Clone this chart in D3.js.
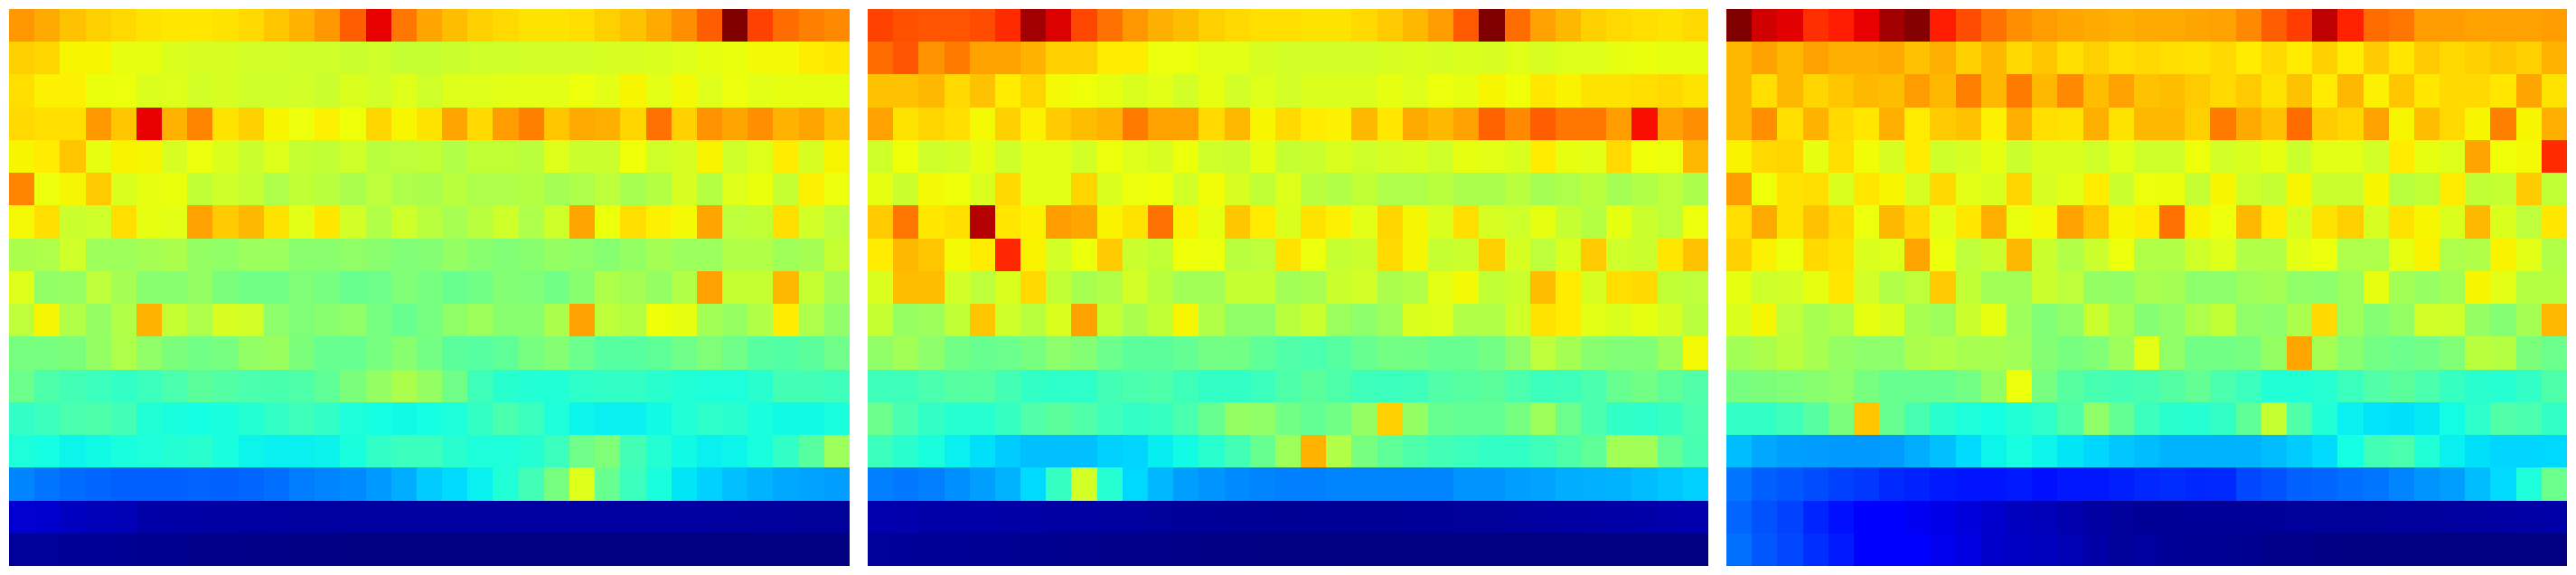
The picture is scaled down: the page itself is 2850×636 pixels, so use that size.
<!DOCTYPE html>
<html>
<head>
<meta charset="utf-8">
<script src="https://cdn.jsdelivr.net/npm/d3@7"></script>
<style>html,body{margin:0;padding:0;background:#fff}svg{display:block}</style>
</head>
<body>
<svg id="chart" width="2850" height="636"></svg>
<script>
const panelA = [
[75,73,70.5,69,68,67,66.5,66.5,67,68,70,72,75,81,91,78.5,73.5,71,69,68,67,67,67.5,69,70.5,73,76,81,100,84,79.5,77.5,76.5],
[69,68.5,65,65,63,63,61.5,61,61,60.5,60.5,60,60,59.5,60,59,59,59.5,60,60,60.5,60.5,60.5,61,61,61.5,62,63,63.5,64.5,64.5,66,66.5],
[67.5,65.5,65.5,63.5,63.7,61.5,62,60.5,61,60,60,60.5,59.5,61.5,60.5,62,60,62,62,62.5,62.5,62.5,63.8,62.5,65,62.5,64.5,62,63.8,62.5,63,63,63],
[68,67.5,67.5,75,70,91,72,77,67,69,65,63.8,65.5,64,68.5,65,67,73.5,68,74.5,77.5,70,73,72.5,68.5,79,69,75.5,73.5,76,72,73.5,70.5],
[65,66,70,63,65.3,64.8,61,63.7,61.5,59.5,62,59,58.5,60,57.5,58,58.5,56.5,58.5,58.5,57.5,62,59.5,59.5,64,60,61,65.3,60,62,66,61,65],
[77,63.7,64.8,69.5,61.5,63,63.5,58.5,60,59,56,58.5,57.5,55.8,58,56,55.8,57.5,56,56,57,55,56,58,55.3,57,61,57,62,63.5,59,65.5,63.7],
[64.7,67.5,59.5,60,67.5,63,62.5,74,69.5,71.5,67,62.5,66.5,60.5,56.5,60,57.5,55.2,57.5,60,56,60,73.5,63.7,67.5,65.5,64.5,73.5,58,58.5,67.5,60.5,58],
[55.8,56,60,54,54,55,55.8,53,52.5,53.8,53.8,51.8,51.8,52.5,51.8,50.7,51,53,51.5,50.7,51.5,53,52.5,51.3,53,55,53.8,53.8,56.5,56.5,54.2,55,59],
[62,52.7,53.2,58,55,51.5,51.5,53,50,48.7,48.7,50.4,49.5,47.7,48.2,50.5,49.5,47.7,48.7,51,50.4,48.7,51.5,56,55,53,56.5,74,59,59,71.5,59,55],
[58,64.8,56.5,53,56.5,72,59,56,61,60.5,52,50.4,51.5,52.5,49.5,47.5,49.5,52.5,54,51.5,51.5,55.8,74,58,57,64,63,54.7,53.2,56.5,66,56,52.5],
[49.5,49.5,50,53,56,52.5,50,48.7,49.5,52.7,53.5,50,47.5,47.5,49.5,51.5,49,46,45.5,46.5,49.5,51,48,45.5,45.5,46.5,48.5,50.4,48.5,45.5,45,46,48.5],
[48,44.5,43,42,41,42,44,46,45,44,43.8,44.5,46.5,50,53,55.8,53,48.5,42.5,39.8,39.2,39,40.5,41,41,40,39,38.5,38.5,40,43,43,42.5],
[41,42,44,44.5,43,39,38,37.5,38,39.3,41,42.5,41,38.5,37.5,37,37.5,38.5,41.3,44,42,38.5,36.5,36,36,37,39,40.5,40,38,37,37,38],
[38.5,37.5,36.5,37,38,38.5,39.3,40,38,36.5,36,36,36.3,38,41,42,42,40,38.5,38.5,39.3,42,48.5,50.4,43,39.3,37,36,36.5,38,41,45.5,54],
[25.5,24,23,22.5,21.8,21.8,21.8,22.2,22,22.5,23.3,24.7,25.5,26,27.5,29.5,32.5,34,36,39,43,49.5,62,47.5,42,38,35,33,31.3,30,29,28.5,28],
[7,6.8,5.6,5,4.5,3.6,3.4,3.2,3.1,3,3,2.9,2.9,2.8,2.8,2.8,2.8,2.8,2.8,2.8,2.8,2.8,2.8,2.8,2.8,2.8,2.8,2.6,2.6,2.5,2.5,2.4,2.4],
[2.3,2.3,2,2,1.7,1.4,1.4,1,1,.7,.6,.5,.4,.3,.3,.2,.2,.2,.2,.2,.1,.1,0,0,0,0,0,0,0,0,0,0,0]
];
const panelB = [
[84,82.5,82,82,83,86.5,97,92,83.5,79,75,72.5,71,69,68,67.5,67.5,67,67,68,69.5,71.5,74.5,81.5,100,79.5,74,71.5,69,68,67.5,67,68],
[79.5,82,75.5,78,73.8,73.8,72,69,69,66,66,63.7,63.7,62.5,62.5,61,60.5,60.5,60.5,60.5,61,61.5,61,61.5,61,62.3,61,62,62,63,63.5,63,63],
[70.5,70.5,71.5,68,70.5,66,68.5,64.5,64,63,61.5,62.5,60.5,63,60.5,62,60.5,61.5,61.5,61.5,63,62,63.8,63,65,64,66.5,65.3,67,67,67.5,68,67],
[74,67,68.5,67.5,64.6,69,65.5,69.5,71,72,78,73.8,73.8,68,71.5,65,68,66,65.5,71.5,66.5,73,71.5,74,80.5,76.5,81,78.5,78.5,74.5,89.5,74,76],
[60,64,60,60.5,63,60,62.5,62.5,60.5,63.7,62,61,63.7,60,59.5,63,59,59.5,61.5,60,61,61.5,60,63,62.5,61.5,66,63,62.5,68,64,63.7,71.5],
[63,59.5,64.5,64,61.5,68,62.5,62.5,68.5,61.5,63.7,64,60.5,64.2,61,58.5,62,57.5,56.5,58.5,56,56,57.5,55.8,55.8,57.5,55,56,57.5,55,56.5,58,55.8],
[69.5,78.5,66.5,67.5,95.5,66.5,65.5,74.5,73.5,65.3,67,79,65.5,63,70,66,61.5,67,65.5,62.5,68.5,64.8,61.5,67.5,61,60,63,59,57,63,59.5,58,63.8],
[66,71.5,70,64.5,66,87,65.3,60.5,63.7,69.5,59.5,58.5,64,63.7,57.5,58,67,63.7,59,59.5,68,64.8,59,59.5,69,61,58,61.5,69.5,60,59.5,66.5,70.5],
[61.5,71,71,60.5,58,61.5,68,58.5,55.3,56.5,60.5,57.5,54.7,54.7,59,59,54.7,55.3,59.5,60.5,55.8,56.5,62.5,64.5,58.5,59.5,71,66,61,67.5,68,58.5,58],
[59,53.2,54,58.5,70,60,57.5,61.5,73.8,59,55.8,58.5,65,56.5,52.5,52.5,57.5,59.5,53.8,52,54,61.5,62,56.5,56.5,60,67,66,62.5,61.5,63,61,57.5],
[52.5,54.7,52,48.7,47.5,48,49.5,52,51,48,46,46,47,49,48.7,46.5,44.7,44,45.5,47.5,49,48.7,47.5,47.5,49,52.5,58,55,51.5,50.5,50.5,54,64.6],
[42.5,42.5,44,45.3,45.5,43,41,40.5,40.5,43,44,44.5,42.5,41,41,42,44.5,46,44.5,42.5,42,42.5,44.7,45.5,46,44,42,42.5,44,47.5,48.7,46.5,44.7],
[48,44,41,39.5,39.5,41.5,44.7,46,44.7,42.5,41,41.5,44,47.5,53,52.5,48.7,47,48.7,53,69,53,47.5,47,47,49.5,54,48,44,41,40.5,41.5,44],
[42,40,38,36,34.5,32.5,31.3,31.3,31.3,33,33.5,35.8,37.2,40,43,47.5,54,72,56.5,49.5,46.5,44.5,43,42,41,41,42.5,44.5,46.5,54.7,54.7,47,43.5],
[25,24.3,25,26.5,28,30,34,41.5,60.5,39.5,33.8,30.5,28,27,26,25.5,25,25,25.5,25.5,25.5,25.5,25.5,27,27,28,28.5,29.5,29.8,30,31,32,33],
[4,3.8,3.5,3.5,3.5,3.2,3.2,3,3,2.8,2.7,2.4,2.2,2.2,2,2,1.8,2,2,2,2,2.2,2.2,2.4,2.4,2.6,2.8,3,3.2,3.4,3.6,3.8,4],
[2.3,2.2,2,2,1.8,1.6,1.4,1.3,1.2,1,1,.9,.6,.5,.4,.3,.3,.3,.2,.1,0,0,0,0,0,0,0,0,0,0,0,0,0]
];
const panelC = [
[100,93,91.5,86,88,91,97,99.5,88,83,79,76,74.5,73.5,73,72.5,73,73,73.5,74,76.5,81,84.5,94.5,87.5,79.5,78.5,74.5,74.5,73.8,74,74,74.5],
[71.5,74,71.5,74,72.5,72.5,73,70.5,72.5,69,71.5,68,70,67.5,69,67.5,68,67.5,67,68,66,68,66,69,66,69.5,66.5,69.5,68,69,70,69,72],
[71.5,67.5,71.5,68.5,70,71.5,71,74.5,71.5,77.5,71.5,78,71.5,76.5,71,74,70.5,71,69.5,68,69.5,67,70.5,66,71.5,65.5,70,66.5,68,68,66.5,73.5,67],
[71.5,76,67.5,72,68,66.5,72.5,66,69.5,70.5,65.5,72.5,67.5,67,72.5,67,71.5,71.5,69,78,73,70.5,79.5,69.5,68.5,74,65,71,68,65,77.5,65,72.5],
[65.3,68,68.5,63,67.5,64.2,61,66,60,61,63,59.5,61.5,61.5,60,62.5,60,60,63.8,60.5,61.5,63,59.5,62.5,62.5,60.5,66,63,62,73.5,64,64.5,86.5],
[74.5,64,67,67.5,61.5,66.5,65,61,68,62.5,61.5,68.5,61,62.5,66,59.5,63.7,63.6,59,65,60,59,65,59.5,59.5,65,57.5,58.5,66,58.5,59,69.5,58.5],
[67.5,73,67,70.5,68,63.7,71.5,68,62.5,66.5,72.5,63.3,64.7,74,70,65,66,79,65.3,63.7,71.5,66,61,67,69,61,67,65,61.5,71.5,61.5,58,66.5],
[69,65.5,63.7,68,67,61.5,62,73.5,63.7,58,59.5,71.5,59.5,56.5,59.5,63.7,56.5,56.5,60,62,56.5,56.5,62.5,63.7,56,56,63,65.3,56,56.5,65.3,62.5,56.5],
[63,60,60.5,63,66.5,60.5,56.5,58,69.5,58.5,54.7,54.7,59.5,58,53,52.8,55.5,55,52,52,54,55,52.5,52,54,63,54.7,53.2,54.7,65,62.5,57,57],
[61.5,64.8,58,55.3,56.5,63,61.5,55.3,54,59.5,63,54,50.5,52.5,59.5,55.3,51,52.5,56,58.5,52.5,52,55.8,68,54,51,53,60.5,60,53,51,55,71.5],
[54.7,55.8,57.5,55.3,53,52,52,55.8,56.5,55.3,55.3,54.7,51,49.5,50.5,54,62.5,52.5,48.7,48.7,49.5,53,73.5,55,51.5,49,48,48.7,50.5,57.5,57,50,48],
[49.5,50,50.5,51.5,52.5,49.5,47.5,47.5,47.5,49,53,63.7,49.5,45.5,43.5,43,43.5,45.2,47,44,42,39,39,39.5,42,44.7,46,44,41.5,40,39.5,41,44.5],
[41,41,42.5,45.3,50,70,47.5,43.5,40,38.5,37.5,39,40.5,44.5,52.5,47,42,40,39.5,41,46.5,59,44.7,39,36,34.8,34.5,35.3,37.3,40.5,44.7,44,41],
[31,29,28,27.8,27.5,27.5,27.8,29.5,31.3,34,36.5,37.8,36.5,35,33.5,32,31,30,30,30,30,31,32.5,34,37.5,43,44,39,36,34.5,33.5,33.5,33.8],
[24,21.8,21,20,18.8,18,16.5,15.8,15,14.5,14.5,15,14,14.8,14.8,15.5,16.3,16.8,16.3,16.5,19.5,20.5,22,22.5,23.3,24,25.5,27,28,31,34,38.5,48],
[22.5,20.5,19,16,14,12,11,10,9,8,6.8,5.5,5,4,3,2.4,2,2,2.1,2.1,2.2,2.2,2.3,2.3,2.4,2.4,2.5,2.5,2.6,2.8,3,3.2,3.5],
[23.5,21,19.5,17,15,12.5,11.5,11,9.5,8.3,6.5,6,5.5,4.5,3.5,2.4,2.8,2,1.8,1.6,1.4,1,.9,.5,.3,.2,.1,0,0,0,0,0,0]
];
const panels = [panelA, panelB, panelC];
const panelLefts = [10, 960, 1910];
const panelWidth = 930, plotTop = 10, plotBottom = 626;

// matplotlib "jet" channel ramps, over values 0–100
const redRamp = d3.scaleLinear().domain([0,35,66,89,100]).range([0,0,1,1,.5]).clamp(true);
const greenRamp = d3.scaleLinear().domain([0,12.5,37.5,64,91,100]).range([0,0,1,1,0,0]).clamp(true);
const blueRamp = d3.scaleLinear().domain([0,11,34,65,100]).range([.5,1,1,0,0]).clamp(true);
const jet = v => d3.rgb(redRamp(v)*255, greenRamp(v)*255, blueRamp(v)*255).formatHex();

const svg = d3.select("#chart");
const snap = v => Math.round(v - 0.01);

panels.forEach((rows, p) => {
  const x = d3.scaleLinear().domain([0, rows[0].length]).range([panelLefts[p], panelLefts[p] + panelWidth]);
  const y = d3.scaleLinear().domain([0, rows.length]).range([plotTop, plotBottom]);
  const cells = rows.flatMap((row, r) => row.map((v, c) => ({r, c, v})));
  svg.append("g").selectAll("rect").data(cells).join("rect")
    .attr("shape-rendering", "crispEdges")
    .attr("x", d => snap(x(d.c)))
    .attr("y", d => snap(y(d.r)))
    .attr("width", d => snap(x(d.c + 1)) - snap(x(d.c)))
    .attr("height", d => snap(y(d.r + 1)) - snap(y(d.r)))
    .attr("fill", d => jet(d.v));
  rows.forEach((row, r) => { if (row.length !== 33) console.error("panel", p, "row", r, "has", row.length); });
});
</script>
</body>
</html>
